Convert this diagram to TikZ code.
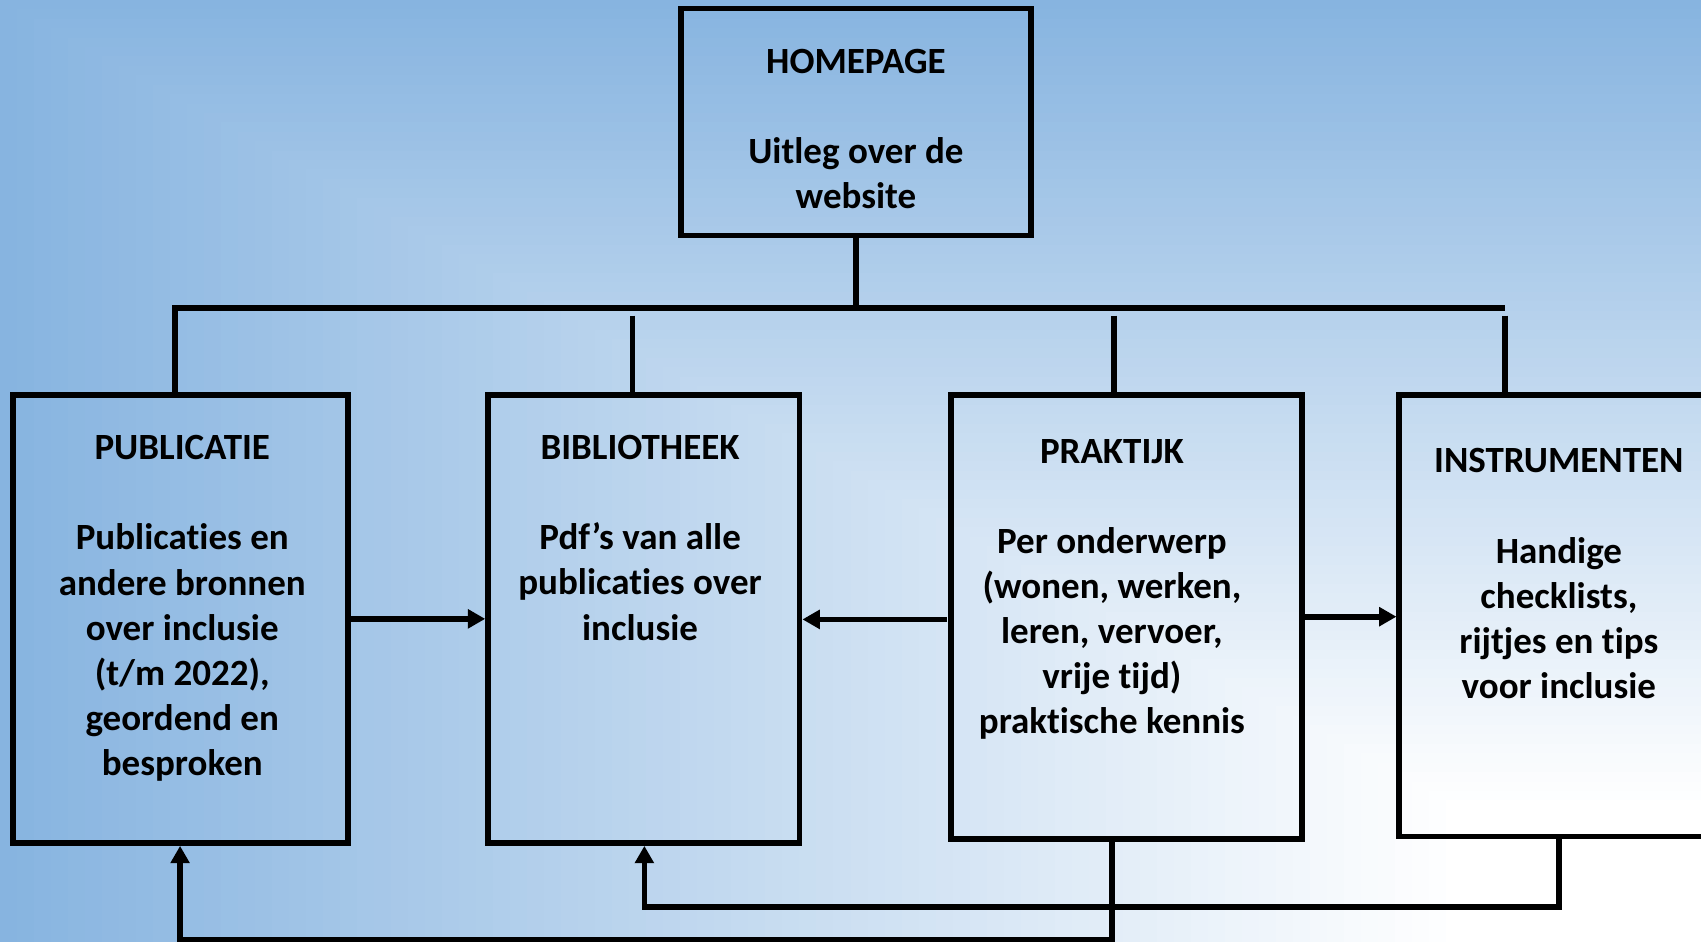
\documentclass[tikz,border=0pt]{standalone}
\usepackage{fontspec}
\setmainfont{Carlito}[Ligatures=NoCommon]
\usetikzlibrary{arrows.meta}
\definecolor{bgblue}{RGB}{135,180,224}

\begin{document}
\begin{tikzpicture}[x=0.01cm, y=0.01cm,
        box/.style={draw, line width=1.5pt, inner sep=0pt},
        txt/.style={anchor=base, align=center, inner sep=0pt, font=\fontsize{9.7}{11.8}\selectfont\bfseries},
        link/.style={line width=1.5pt},
        arr/.style={line width=1.5pt, -{Triangle[length=1.6mm, width=1.7mm]}}]
        \useasboundingbox (0,0) rectangle (1568,868);
        \clip (0,0) rectangle (1568,868);
        \foreach \i [evaluate=\i as \p using {max(0,(\i-15)/0.85)}] in {100,99,...,1}
            \fill[bgblue!\p!white] ({1568-15.68*\i},0) rectangle (1568,{8.68*\i});

        \node[box, minimum width=3.22cm, minimum height=2.09cm] (home) at (789,755.5) {};
        \node[box, minimum width=3.09cm, minimum height=4.13cm] (pub) at (166.5,297.5) {};
        \node[box, minimum width=2.87cm, minimum height=4.13cm] (bib) at (593.5,297.5) {};
        \node[box, minimum width=3.23cm, minimum height=4.09cm] (pra) at (1038.5,299.5) {};
        \node[box, minimum width=2.94cm, minimum height=4.07cm] (ins) at (1437,300.5) {};

        % base = baseline of the last line
        \node[txt] (hometext) at (789,675.5) {HOMEPAGE\\[\baselineskip]Uitleg over de\\website};
        \node[txt] (pubtext) at (168,153.5) {PUBLICATIE\\[\baselineskip]Publicaties en\\andere bronnen\\over inclusie\\(t/m 2022),\\geordend en\\besproken};
        \node[txt] (bibtext) at (590,278) {BIBLIOTHEEK\\[\baselineskip]Pdf’s van alle\\publicaties over\\inclusie};
        \node[txt] (pratext) at (1025,192) {PRAKTIJK\\[\baselineskip]Per onderwerp\\(wonen, werken,\\leren, vervoer,\\vrije tijd)\\praktische kennis};
        \node[txt] (instext) at (1437,224.5) {INSTRUMENTEN\\[\baselineskip]Handige\\checklists,\\rijtjes en tips\\voor inclusie};

        \coordinate (busl) at (161,584);
        \coordinate (busr) at (1387,584);
        \coordinate (dropbib) at (583,577);
        \coordinate (droppra) at (1027,577);
        \coordinate (dropins) at (1387,577);
        \coordinate (lowbib) at (594,32);
        \coordinate (praout) at (1025,95);
        \coordinate (praleft) at (873,297);
        \coordinate (lowpub) at (166,1.5);

        \draw[link] (home) -- (home |- busl)
            (busl |- pub.north) -- (busl) -- (busr)
            (dropbib) -- (dropbib |- bib.north)
            (droppra) -- (droppra |- pra.north)
            (dropins) -- (dropins |- ins.north);

        \draw[arr] (pub) -- (bib);
        \draw[arr] (praleft) -- (praleft -| bib.east);
        \draw[arr] (pra.east) -- (pra.east -| ins.west);
        \draw[arr] (ins.south) |- (lowbib) -- (lowbib |- bib.south);
        \draw[arr] (praout) |- (lowpub) -- (lowpub |- pub.south);
    \end{tikzpicture}
\end{document}
